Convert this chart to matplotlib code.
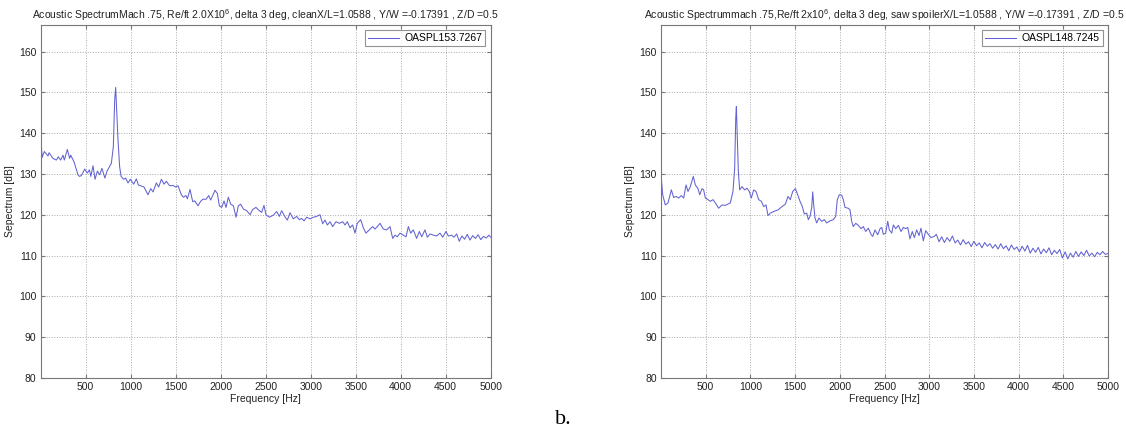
import numpy as np
import matplotlib
matplotlib.use('Agg')
import matplotlib.pyplot as plt

plt.rcParams['font.family'] = ['Liberation Sans', 'DejaVu Sans']
plt.rcParams['mathtext.default'] = 'regular'

# clean configuration (left panel)
freq_clean = [0, 15, 26, 41, 81, 93, 137, 174, 195, 222,
              248, 262, 296, 322, 333, 370, 414, 430, 452, 489,
              517, 541, 557, 581, 604, 630, 656, 680, 713, 737,
              785, 807, 822, 833, 844, 859, 877, 893, 922, 944,
              970, 996, 1033, 1063, 1085, 1122, 1148, 1192, 1222, 1248,
              1285, 1311, 1341, 1370, 1396, 1433, 1470, 1496, 1526, 1563,
              1585, 1615, 1630, 1659, 1689, 1711, 1748, 1774, 1800, 1837,
              1867, 1889, 1937, 1963, 1985, 2011, 2037, 2059, 2085, 2111,
              2141, 2170, 2196, 2222, 2252, 2289, 2326, 2355, 2392, 2429,
              2455, 2481, 2503, 2540, 2585, 2622, 2652, 2677, 2714, 2741,
              2770, 2807, 2844, 2874, 2900, 2926, 2955, 2992, 3030, 3066,
              3103, 3133, 3159, 3185, 3215, 3244, 3281, 3318, 3355, 3381,
              3407, 3437, 3466, 3492, 3518, 3555, 3585, 3614, 3651, 3688,
              3714, 3740, 3770, 3807, 3844, 3881, 3911, 3937, 3962, 3992,
              4029, 4059, 4085, 4111, 4140, 4177, 4207, 4233, 4270, 4296,
              4326, 4363, 4400, 4437, 4466, 4503, 4529, 4566, 4592, 4622,
              4651, 4680, 4710, 4740, 4770, 4800, 4830, 4860, 4890, 4920,
              4950, 4980, 5000]
spl_clean = [140, 134.0, 134.7, 135.5, 134.4, 135.2, 133.8, 133.4, 134.2, 133.4,
             134.6, 133.4, 136.0, 133.8, 134.6, 133.0, 129.8, 129.4, 129.6, 131.2,
             130.2, 131.0, 129.4, 132.0, 128.7, 130.7, 129.8, 131.4, 129.0, 130.7,
             132.6, 136.7, 148.1, 151.2, 145.7, 138.3, 131.8, 129.4, 128.7, 129.0,
             127.8, 128.7, 127.5, 128.8, 127.3, 127.0, 126.8, 124.9, 126.4, 125.6,
             127.8, 126.8, 128.7, 127.5, 128.2, 127.1, 127.2, 126.8, 127.1, 124.9,
             124.3, 124.7, 123.9, 126.2, 123.2, 123.4, 122.2, 123.2, 123.8, 123.8,
             124.7, 123.6, 126.0, 125.2, 122.2, 121.8, 123.4, 121.8, 124.3, 122.6,
             122.2, 119.4, 122.2, 122.6, 121.4, 121.0, 120.0, 121.3, 121.8, 121.0,
             120.6, 122.3, 120.0, 119.4, 119.9, 120.8, 119.6, 121.0, 119.5, 118.7,
             120.5, 119.0, 119.6, 118.8, 119.1, 118.5, 119.4, 119.0, 119.4, 119.6,
             120.0, 117.8, 118.7, 117.5, 118.3, 117.1, 118.3, 117.9, 118.3, 117.5,
             118.3, 116.8, 117.5, 115.5, 117.9, 118.8, 116.8, 115.5, 116.3, 117.1,
             116.5, 117.1, 117.9, 116.5, 116.3, 117.1, 114.2, 115.0, 114.6, 115.5,
             115.0, 114.6, 117.1, 115.5, 116.3, 114.2, 115.9, 114.6, 116.3, 114.5,
             115.3, 115.0, 114.8, 115.5, 114.5, 115.9, 114.8, 115.0, 114.5, 115.3,
             113.5, 114.8, 114.0, 115.2, 113.8, 114.9, 114.2, 115.1, 113.9, 114.7,
             114.3, 115.0, 114.5]

# saw spoiler configuration (right panel)
freq_saw = [0, 19, 48, 78, 116, 142, 168, 198, 227, 254,
            280, 302, 328, 361, 384, 414, 433, 459, 477, 496,
            526, 552, 582, 608, 645, 682, 720, 775, 805, 824,
            836, 843, 854, 865, 880, 906, 936, 962, 988, 1010,
            1037, 1063, 1093, 1122, 1149, 1175, 1197, 1223, 1260, 1309,
            1353, 1391, 1421, 1446, 1473, 1503, 1529, 1555, 1581, 1603,
            1630, 1648, 1667, 1686, 1697, 1708, 1723, 1741, 1767, 1797,
            1827, 1853, 1890, 1927, 1954, 1972, 1995, 2021, 2039, 2058,
            2095, 2114, 2133, 2151, 2178, 2207, 2237, 2263, 2290, 2319,
            2349, 2368, 2394, 2424, 2450, 2469, 2487, 2513, 2536, 2554,
            2581, 2599, 2625, 2655, 2685, 2711, 2737, 2760, 2785, 2811,
            2834, 2860, 2886, 2908, 2934, 2961, 2990, 3020, 3057, 3080,
            3110, 3140, 3170, 3200, 3230, 3260, 3290, 3320, 3350, 3380,
            3410, 3440, 3470, 3500, 3530, 3560, 3590, 3620, 3650, 3680,
            3710, 3740, 3770, 3800, 3830, 3860, 3890, 3920, 3950, 3980,
            4010, 4040, 4070, 4100, 4130, 4160, 4190, 4220, 4250, 4280,
            4310, 4340, 4370, 4400, 4430, 4460, 4490, 4520, 4550, 4580,
            4610, 4640, 4670, 4700, 4730, 4760, 4790, 4820, 4850, 4880,
            4910, 4940, 4970, 5000]
spl_saw = [129.8, 124.9, 122.4, 122.9, 126.1, 124.2, 124.5, 124.1, 124.7, 124.1,
           127.3, 125.7, 126.9, 129.4, 127.3, 126.4, 124.9, 126.4, 126.1, 124.1,
           123.7, 123.3, 123.7, 122.9, 121.6, 122.4, 122.3, 122.9, 125.7, 131.4,
           143.7, 146.5, 138.8, 130.6, 126.1, 126.9, 126.1, 126.5, 125.7, 124.1,
           126.1, 125.7, 123.7, 123.3, 122.0, 122.4, 119.8, 120.4, 120.8, 121.2,
           122.0, 122.6, 124.5, 123.7, 125.7, 126.4, 124.9, 123.3, 122.0, 120.2,
           120.4, 118.8, 119.6, 121.8, 125.6, 122.5, 119.2, 118.0, 119.2, 118.4,
           118.8, 118.0, 118.5, 118.8, 119.6, 123.7, 124.9, 124.8, 123.7, 121.8,
           121.6, 121.2, 118.4, 117.1, 117.9, 117.4, 116.6, 117.1, 115.9, 116.7,
           115.2, 114.7, 116.3, 115.1, 116.6, 116.9, 115.2, 115.5, 118.4, 116.3,
           115.5, 117.5, 116.6, 117.4, 115.9, 116.9, 116.6, 116.9, 114.1, 115.9,
           114.4, 116.3, 114.9, 116.7, 113.6, 116.1, 115.2, 114.4, 114.7, 115.2,
           113.4, 114.6, 113.2, 114.4, 113.5, 114.8, 113.1, 113.8, 112.6, 113.9,
           112.8, 113.4, 112.2, 113.5, 112.4, 113.1, 111.9, 113.2, 112.3, 112.9,
           111.8, 112.7, 111.6, 112.9, 111.7, 112.4, 111.2, 112.6, 111.5, 112.1,
           110.9, 112.3, 111.1, 112.5, 110.6, 111.8, 110.8, 112.0, 110.4, 111.6,
           110.7, 111.9, 110.2, 111.3, 110.5, 111.5, 109.4, 110.9, 109.2, 110.6,
           109.6, 111.0, 109.8, 110.9, 110.0, 111.3, 109.9, 110.6, 109.7, 110.8,
           110.2, 111.0, 110.3, 110.5]

titles = ['Acoustic SpectrumMach .75, Re/ft 2.0X10$^{6}$, delta 3 deg, cleanX/L=1.0588 , Y/W =-0.17391 , Z/D =0.5',
          'Acoustic Spectrummach .75,Re/ft 2x10$^{6}$, delta 3 deg, saw spoilerX/L=1.0588 , Y/W =-0.17391 , Z/D =0.5']
legends = ['OASPL153.7267', 'OASPL148.7245']
xticks = np.arange(500, 5001, 500)
yticks = np.arange(80, 161, 10)

fig = plt.figure(figsize=(11.26, 4.30), dpi=100)
ax1 = fig.add_axes([40.7/1126, 1-378/430, 450/1126, 353/430])
ax2 = fig.add_axes([661/1126, 1-378/430, 447/1126, 353/430])

txtc = '#222222'
fs = 7.5
for ax, f, s, t, lab in [(ax1, freq_clean, spl_clean, titles[0], legends[0]),
                         (ax2, freq_saw, spl_saw, titles[1], legends[1])]:
    ax.plot(f, s, color='#6262d2', lw=0.75, label=lab)
    ax.set_xlim(0, 5000)
    ax.set_ylim(80, 166.5)
    ax.set_xticks(xticks)
    ax.set_yticks(yticks)
    ax.grid(True, ls=':', color='#aaaaaa', lw=0.7)
    ax.tick_params(direction='in', top=True, right=True, length=3,
                   labelsize=fs, colors='#777777', labelcolor=txtc, pad=3)
    for sp in ax.spines.values():
        sp.set_color('#777777')
        sp.set_linewidth(0.8)
    ax.set_title(t, fontsize=fs, color=txtc, pad=4)
    ax.set_xlabel('Frequency [Hz]', fontsize=fs, color=txtc, labelpad=1)
    ax.set_ylabel('Sepectrum [dB]', fontsize=fs, color=txtc, labelpad=3)
    leg = ax.legend(loc='upper right', fontsize=fs, fancybox=False,
                    handlelength=3.0, borderpad=0.3, borderaxespad=0.5,
                    handletextpad=0.5)
    leg.get_frame().set_edgecolor('#777777')
    leg.get_frame().set_linewidth(0.8)

fig.text(563/1126, 1-420/430, 'b.', family='Liberation Serif', fontsize=16,
         ha='center', va='center', color='black')

fig.savefig('out.png', dpi=100)
